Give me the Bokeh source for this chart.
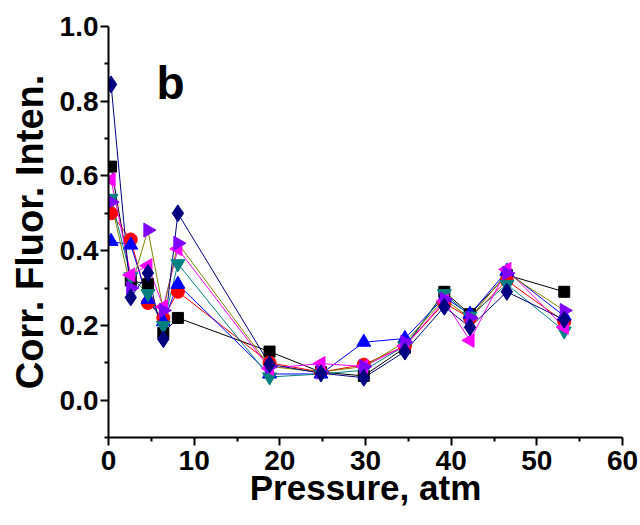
import math
from bokeh.plotting import figure
from bokeh.models import Range1d, FixedTicker, Label, PrintfTickFormatter
from bokeh.embed import file_html
from bokeh.resources import INLINE

pressure = [0.3, 2.6, 4.6, 6.4, 8.1, 18.8, 24.8, 29.8, 34.6, 39.2, 42.2, 46.5, 53.2]

black_sq = [0.625, 0.32, 0.31, 0.18, 0.22, 0.13, 0.075, 0.065, 0.14, 0.29, 0.23, 0.335, 0.29]
red_circ = [0.50, 0.43, 0.26, 0.22, 0.29, 0.10, 0.075, 0.095, 0.145, 0.26, 0.22, 0.32, 0.21]
blue_tri = [0.425, 0.415, 0.27, 0.21, 0.31, 0.07, 0.07, 0.155, 0.165, 0.275, 0.23, 0.345, 0.225]
teal_inv = [0.54, 0.33, 0.285, 0.20, 0.365, 0.062, 0.07, 0.08, 0.145, 0.285, 0.225, 0.31, 0.185]
mag_left = [0.59, 0.335, 0.36, 0.25, 0.405, 0.085, 0.098, 0.09, 0.145, 0.265, 0.16, 0.35, 0.195]
vio_right = [0.53, 0.30, 0.455, 0.24, 0.42, 0.09, 0.075, 0.09, 0.155, 0.27, 0.22, 0.34, 0.24]
navy_dia = [0.845, 0.275, 0.34, 0.163, 0.50, 0.096, 0.072, 0.06, 0.13, 0.25, 0.195, 0.29, 0.215]

x_ticks = [0, 10, 20, 30, 40, 50, 60]
y_ticks = [0.0, 0.2, 0.4, 0.6, 0.8, 1.0]

FONT = "Liberation Sans"

p = figure(width=640, height=525, output_backend="svg", toolbar_location=None,
           x_range=Range1d(0, 60), y_range=Range1d(-0.1, 1.0),
           min_border_left=108, min_border_right=18, min_border_top=26, min_border_bottom=88)
p.outline_line_color = None
p.grid.visible = False

series = [
    (black_sq, "black", "black", "square", 0.0, 11),
    (red_circ, "red", "red", "circle", 0.0, 13),
    (blue_tri, "blue", "blue", "triangle", 0.0, 14),
    (teal_inv, "#008080", "#008080", "inverted_triangle", 0.0, 14),
    (mag_left, "magenta", "magenta", "triangle", math.pi / 2, 14),
    (vio_right, "#8000FF", "#808000", "triangle", -math.pi / 2, 14),
    (navy_dia, "#000080", "#000080", "diamond", 0.0, 17),
]
for ys, mcol, lcol, mk, ang, sz in series:
    p.line(pressure, ys, line_color=lcol, line_width=1)
for ys, mcol, lcol, mk, ang, sz in series:
    p.scatter(pressure, ys, marker=mk, angle=ang, size=sz, fill_color=mcol, line_color=mcol)

for ax in (p.xaxis[0], p.yaxis[0]):
    ax.axis_line_width = 2
    ax.major_tick_line_width = 2
    ax.minor_tick_line_width = 2
    ax.major_tick_out = 8
    ax.major_tick_in = 0
    ax.minor_tick_out = 4
    ax.minor_tick_in = 0
    ax.major_label_text_font = FONT
    ax.major_label_text_font_style = "bold"
    ax.major_label_text_font_size = "28px"
    ax.major_label_text_color = "black"
    ax.axis_label_text_font = FONT
    ax.axis_label_text_font_style = "bold"
    ax.axis_label_text_color = "black"

p.xaxis[0].ticker = FixedTicker(ticks=x_ticks, minor_ticks=[5, 15, 25, 35, 45, 55])
p.yaxis[0].ticker = FixedTicker(ticks=y_ticks, minor_ticks=[-0.1, 0.1, 0.3, 0.5, 0.7, 0.9])
p.yaxis[0].formatter = PrintfTickFormatter(format="%.1f")
p.xaxis[0].axis_label = "Pressure, atm"
p.yaxis[0].axis_label = "Corr. Fluor. Inten."
p.xaxis[0].axis_label_text_font_size = "35px"
p.yaxis[0].axis_label_text_font_size = "38px"
p.xaxis[0].major_label_standoff = 5
p.yaxis[0].major_label_standoff = 2
p.xaxis[0].axis_label_standoff = -5
p.yaxis[0].axis_label_standoff = 6

p.add_layout(Label(x=5.6, y=0.85, text="b", text_font=FONT, text_font_style="bold",
                   text_font_size="46px", text_baseline="middle", text_color="black"))

open("out.html", "w").write(file_html(p, INLINE))
